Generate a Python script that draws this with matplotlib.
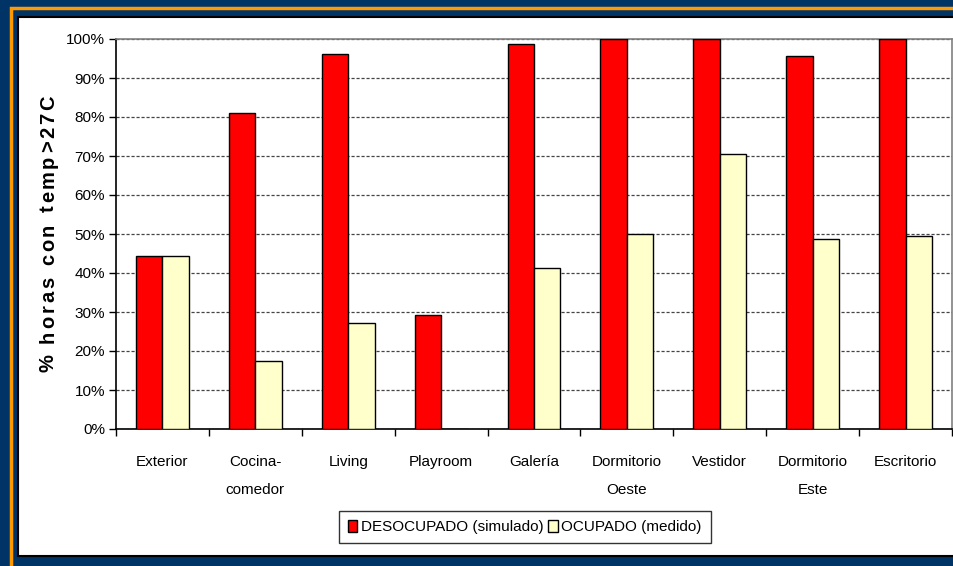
import numpy as np
import matplotlib.pyplot as plt
from matplotlib.patches import Rectangle
from matplotlib.font_manager import FontProperties
from matplotlib.ticker import FixedLocator, FuncFormatter

plt.rcParams['font.family'] = ['Liberation Sans', 'DejaVu Sans']

categories = ["Exterior", "Cocina-\ncomedor", "Living", "Playroom", "Galería",
              "Dormitorio\nOeste", "Vestidor", "Dormitorio\nEste", "Escritorio"]
desocupado = [44.4, 81.0, 96.2, 29.2, 98.6, 100.0, 100.0, 95.6, 100.0]
ocupado = [44.4, 17.4, 27.2, 0.0, 41.3, 50.0, 70.5, 48.7, 49.5]
series_names = ["DESOCUPADO (simulado)", "OCUPADO (medido)"]
y_title = "% horas con temp>27C"

W, H = 954, 566
fig = plt.figure(figsize=(W / 100, H / 100), dpi=100)
fig.patch.set_facecolor('#003366')

# frame: orange line, then white panel
fig.patches.append(Rectangle((11 / W, -0.05), 1.1, (H - 7.5) / H + 0.05, transform=fig.transFigure,
                             fill=False, edgecolor='#FF9900', linewidth=2.5, zorder=-2))
fig.patches.append(Rectangle((18 / W, (H - 556) / H), 1.0, (556 - 17) / H, transform=fig.transFigure,
                             facecolor='white', edgecolor='black', linewidth=1.5, zorder=-1))

ax = fig.add_axes([116 / W, 137 / H, 836 / W, 390 / H])
ax.set_zorder(2)
ax.set_facecolor('white')

x = np.arange(len(categories))
w = 0.285
ax.bar(x - w / 2, desocupado, w, color='#FF0000', edgecolor='black', linewidth=1, zorder=3,
       label=series_names[0])
ax.bar(x + w / 2, ocupado, w, color='#FFFFCC', edgecolor='black', linewidth=1, zorder=3,
       label=series_names[1])

ax.set_xlim(-0.5, len(categories) - 0.5)
ax.set_ylim(0, 100)

fs = 11
ax.yaxis.set_major_locator(FixedLocator(np.arange(0, 101, 10)))
ax.yaxis.set_major_formatter(FuncFormatter(lambda v, p: f"{int(v)}%"))
ax.tick_params(axis='y', direction='out', length=5, width=1, labelsize=fs, pad=3)

ax.xaxis.set_major_locator(FixedLocator(np.arange(-0.5, len(categories), 1)))
ax.xaxis.set_major_formatter(FuncFormatter(lambda v, p: ""))
ax.xaxis.set_minor_locator(FixedLocator(x))
ax.set_xticklabels(categories, minor=True)
ax.tick_params(axis='x', which='major', direction='out', length=5, width=1)
ax.tick_params(axis='x', which='minor', length=0, labelsize=fs, pad=19)
for lbl in ax.get_xticklabels(minor=True):
    lbl.set_linespacing(2.2)

ax.grid(axis='y', linestyle=(0, (2.5, 1.5)), color='#444444', linewidth=0.9, zorder=1)

for s in ['top', 'right']:
    ax.spines[s].set_color('#808080')
    ax.spines[s].set_linewidth(1.2)
for s in ['left', 'bottom']:
    ax.spines[s].set_color('black')
    ax.spines[s].set_linewidth(1.2)

# y title with wide letter spacing, drawn letter by letter
prop = FontProperties(family=['Liberation Sans', 'DejaVu Sans'], weight='bold', size=14.5)
renderer = fig.canvas.get_renderer()
adv = [renderer.get_text_width_height_descent(ch, prop, ismath=False)[0] for ch in y_title]
y0, y1 = H - 372, H - 95
gap = ((y1 - y0) - sum(adv)) / (len(y_title) - 1)
pos = y0
for ch, a in zip(y_title, adv):
    fig.text(54 / W, pos / H, ch, fontproperties=prop, rotation=90, rotation_mode='anchor',
             ha='left', va='baseline')
    pos += a + gap

leg = fig.legend(loc='center', bbox_to_anchor=(525 / W, 39 / H), ncol=2, frameon=True,
                 fontsize=11, handlelength=0.6, handleheight=0.9, handletextpad=0.25,
                 columnspacing=0.3, borderpad=0.6, borderaxespad=0, fancybox=False)
leg.get_frame().set_edgecolor('black')
leg.get_frame().set_linewidth(1)

fig.savefig("out.png", dpi=100, facecolor=fig.get_facecolor())
